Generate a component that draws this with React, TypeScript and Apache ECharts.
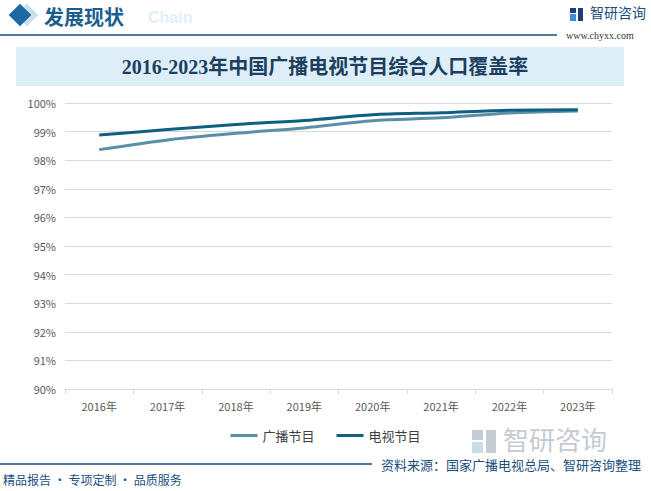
import React, { useEffect, useRef } from "react";
import * as echarts from "echarts";

const years = ["2016年", "2017年", "2018年", "2019年", "2020年", "2021年", "2022年", "2023年"];
const radio = [98.37, 98.71, 98.94, 99.13, 99.38, 99.48, 99.65, 99.72];
const tv = [98.88, 99.07, 99.25, 99.39, 99.59, 99.66, 99.75, 99.76];
const yMin = 90;
const yMax = 100;
const yStep = 1;

const DARK = "#0f5f82";
const LIGHT = "#5b8fa8";
const NAVY = "#1a4e7e";
const FONT = "'Noto Sans CJK SC', 'Noto Sans', sans-serif";

export default function App() {
  const ref = useRef<HTMLDivElement>(null);
  useEffect(() => {
    document.body.style.margin = "0";
    const chart = echarts.init(ref.current!, undefined, { renderer: "svg" });
    chart.setOption({
      animation: false,
      backgroundColor: "#ffffff",
      textStyle: { fontFamily: FONT },
      grid: { left: 65, right: 39, top: 103, bottom: 102 },
      legend: {
        top: 424,
        left: "center",
        itemWidth: 27,
        itemHeight: 3,
        itemGap: 22,
        icon: "rect",
        textStyle: { fontSize: 13, color: "#404040", fontFamily: FONT },
        data: ["广播节目", "电视节目"],
      },
      xAxis: {
        type: "category",
        data: years,
        boundaryGap: true,
        axisLine: { lineStyle: { color: "#d9d9d9" } },
        axisTick: { show: true, alignWithLabel: false, lineStyle: { color: "#d9d9d9" } },
        axisLabel: { color: "#595959", fontSize: 11, margin: 11, fontFamily: FONT },
      },
      yAxis: {
        type: "value",
        min: yMin,
        max: yMax,
        interval: yStep,
        axisLine: { show: false },
        axisTick: { show: false },
        axisLabel: { color: "#595959", fontSize: 11, margin: 9, formatter: "{value}%", fontFamily: FONT },
        splitLine: { lineStyle: { color: "#d9d9d9" } },
      },
      series: [
        {
          name: "广播节目",
          type: "line",
          data: radio,
          smooth: 0.3,
          symbol: "none",
          lineStyle: { width: 3, color: LIGHT },
          itemStyle: { color: LIGHT },
        },
        {
          name: "电视节目",
          type: "line",
          data: tv,
          smooth: 0.3,
          symbol: "none",
          lineStyle: { width: 3, color: DARK },
          itemStyle: { color: DARK },
        },
      ],
      graphic: [
        // header diamonds
        { type: "rect", x: 27, y: 15, shape: { x: -8, y: -8, width: 16, height: 16 }, rotation: Math.PI / 4, style: { fill: "#c9dfee" }, silent: true, z: 0 },
        { type: "rect", x: 20, y: 15, shape: { x: -8, y: -8, width: 16, height: 16 }, rotation: Math.PI / 4, style: { fill: "#1a6aa0" }, silent: true, z: 1 },
        { type: "text", x: 148, y: 9, style: { text: "Chain", font: "bold 16px 'Liberation Sans', sans-serif", fill: "#e3eef7" }, silent: true, z: 0 },
        { type: "text", x: 44, y: 16, style: { text: "发展现状", font: "bold 20px 'Noto Sans CJK SC', sans-serif", fill: "#1a5e8e", verticalAlign: "middle" }, silent: true, z: 2 },
        { type: "line", shape: { x1: 0, y1: 35, x2: 557, y2: 35 }, style: { stroke: NAVY, lineWidth: 1.5 }, silent: true },
        // top right logo
        { type: "rect", shape: { x: 570, y: 8, width: 6, height: 5 }, style: { fill: "#1a3e7e" }, silent: true },
        { type: "rect", shape: { x: 570, y: 14, width: 6, height: 7 }, style: { fill: "#3b8fd0" }, silent: true },
        { type: "rect", shape: { x: 578, y: 8, width: 5, height: 13 }, style: { fill: "#1a3e7e" }, silent: true },
        { type: "text", x: 590, y: 5, style: { text: "智研咨询", font: "14px 'Noto Sans CJK SC', sans-serif", fill: NAVY }, silent: true },
        { type: "text", x: 566, y: 30, style: { text: "www.chyxx.com", font: "10px 'Liberation Serif', serif", fill: "#333333" }, silent: true },
        // title box
        { type: "rect", shape: { x: 16, y: 47, width: 608, height: 39 }, style: { fill: "#deeef8" }, silent: true, z: -1 },
        { type: "text", x: 325, y: 67, style: { text: "2016-2023年中国广播电视节目综合人口覆盖率", font: "bold 20px 'Liberation Serif', 'Noto Sans CJK SC', serif", fill: "#1c3f60", align: "center", verticalAlign: "middle" }, silent: true },
        // bottom logo watermark
        { type: "rect", shape: { x: 472, y: 430, width: 11, height: 10 }, style: { fill: "#c4ccd6" }, silent: true },
        { type: "rect", shape: { x: 472, y: 442, width: 11, height: 11 }, style: { fill: "#c9dcec" }, silent: true },
        { type: "rect", shape: { x: 486, y: 430, width: 10, height: 23 }, style: { fill: "#c4ccd6" }, silent: true },
        { type: "text", x: 503, y: 425, style: { text: "智研咨询", font: "26px 'Noto Sans CJK SC', sans-serif", fill: "#c6cbd2" }, silent: true },
        // bottom bar
        { type: "line", shape: { x1: 0, y1: 464, x2: 372, y2: 464 }, style: { stroke: NAVY, lineWidth: 1.5 }, silent: true },
        { type: "text", x: 381, y: 458, style: { text: "资料来源：国家广播电视总局、智研咨询整理", font: "13px 'Noto Sans CJK SC', sans-serif", fill: NAVY }, silent: true },
        { type: "text", x: 3, y: 473, style: { text: "精品报告 · 专项定制 · 品质服务", font: "12px 'Noto Sans CJK SC', sans-serif", fill: NAVY }, silent: true },
      ],
    });
    return () => chart.dispose();
  }, []);
  return <div ref={ref} style={{ width: 651, height: 491 }} />;
}
